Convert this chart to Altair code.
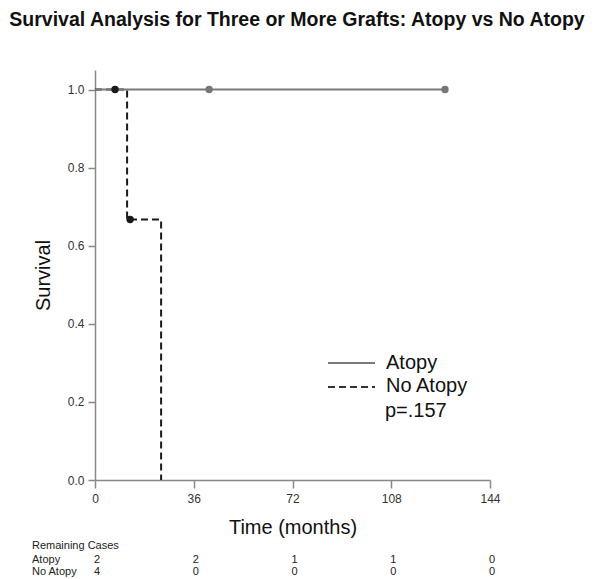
import altair as alt
import pandas as pd

# ---- data ----
atopy_t = [0, 127.6]
atopy_s = [1.0, 1.0]
atopy_cens_t = [41.6, 127.6]
atopy_cens_s = [1.0, 1.0]

noatopy_t = [0, 11.7, 24.1]
noatopy_s = [1.0, 0.667, 0.0]
noatopy_cens_t = [7.3, 12.8]
noatopy_cens_s = [1.0, 0.667]

risk_times = [0, 36, 72, 108, 144]
risk_atopy = [2, 2, 1, 1, 0]
risk_noatopy = [4, 0, 0, 0, 0]

x_ticks = [0, 36, 72, 108, 144]
y_ticks = [0.0, 0.2, 0.4, 0.6, 0.8, 1.0]

FONT = "Liberation Sans"
W, H = 395, 410

xs = alt.Scale(domain=[0, 144], nice=False, zero=False)
ys = alt.Scale(domain=[0, 1.05], nice=False)

curve_a = pd.DataFrame({"t": atopy_t, "s": atopy_s})
curve_n = pd.DataFrame({"t": noatopy_t, "s": noatopy_s})
cens_a = pd.DataFrame({"t": atopy_cens_t, "s": atopy_cens_s})
cens_n = pd.DataFrame({"t": noatopy_cens_t, "s": noatopy_cens_s})
risk = pd.DataFrame({"t": risk_times, "a": risk_atopy, "n": risk_noatopy})

xenc = alt.X("t:Q", scale=xs, axis=alt.Axis(
    values=x_ticks, title="Time (months)", titleFont=FONT, titleFontSize=20,
    titleFontWeight="normal", titleColor="#111", titlePadding=13,
    labelFont=FONT, labelFontSize=12, labelColor="#333", labelPadding=5,
    tickSize=8, tickColor="#888", domainColor="#888", domainWidth=1.5,
    tickWidth=1.5, grid=False, labelFlush=False))
yenc = alt.Y("s:Q", scale=ys, axis=alt.Axis(
    values=y_ticks, format=".1f", title="Survival", titleFont=FONT,
    titleFontSize=20, titleFontWeight="normal", titleColor="#111",
    titlePadding=14, labelFont=FONT, labelFontSize=12, labelColor="#333",
    labelPadding=4, tickSize=7, tickColor="#888", domainColor="#888",
    domainWidth=1.5, tickWidth=1.5, grid=False))

line_n = alt.Chart(curve_n).mark_line(
    interpolate="step-after", color="#1a1a1a", strokeWidth=2,
    strokeDash=[7, 4]).encode(x=xenc, y=yenc)
line_a = alt.Chart(curve_a).mark_line(
    color="#7a7a7a", strokeWidth=2).encode(x="t:Q", y="s:Q")
pts_a = alt.Chart(cens_a).mark_point(
    filled=True, size=55, color="#777777", opacity=1).encode(x="t:Q", y="s:Q")
pts_n = alt.Chart(cens_n).mark_point(
    filled=True, size=55, color="#1a1a1a", opacity=1).encode(x="t:Q", y="s:Q")

# legend
leg = pd.DataFrame({"k": [0]})
leg_line_a = alt.Chart(leg).mark_rule(color="#7a7a7a", strokeWidth=2).encode(
    x=alt.value(233), x2=alt.value(280), y=alt.value(293))
leg_line_n = alt.Chart(leg).mark_rule(color="#333", strokeWidth=2, strokeDash=[7, 4]).encode(
    x=alt.value(233), x2=alt.value(280), y=alt.value(317))
leg_txt_a = alt.Chart(leg).mark_text(text="Atopy", font=FONT, fontSize=20, align="left",
                                     baseline="middle", color="#111").encode(
    x=alt.value(291), y=alt.value(293))
leg_txt_n = alt.Chart(leg).mark_text(text="No Atopy", font=FONT, fontSize=20, align="left",
                                     baseline="middle", color="#111").encode(
    x=alt.value(291), y=alt.value(316))
leg_txt_p = alt.Chart(leg).mark_text(text="p=.157", font=FONT, fontSize=20, align="left",
                                     baseline="middle", color="#111").encode(
    x=alt.value(290), y=alt.value(341))

# title
title = alt.Chart(leg).mark_text(
    text="Survival Analysis for Three or More Grafts: Atopy vs No Atopy",
    font=FONT, fontSize=19.5, fontWeight="bold", align="center", baseline="middle",
    color="#111").encode(x=alt.value(202), y=alt.value(-50))

# remaining cases table
rc_hdr = alt.Chart(leg).mark_text(text="Remaining Cases", font=FONT, fontSize=11,
                                  align="left", baseline="middle", color="#222").encode(
    x=alt.value(-63), y=alt.value(476))
rc_a_lbl = alt.Chart(leg).mark_text(text="Atopy", font=FONT, fontSize=11,
                                    align="left", baseline="middle", color="#222").encode(
    x=alt.value(-63), y=alt.value(490))
rc_n_lbl = alt.Chart(leg).mark_text(text="No Atopy", font=FONT, fontSize=11,
                                    align="left", baseline="middle", color="#222").encode(
    x=alt.value(-63), y=alt.value(502))
rc_a = alt.Chart(risk).mark_text(font=FONT, fontSize=11, align="center", baseline="middle",
                                 color="#222", dx=2).encode(
    x="t:Q", y=alt.value(490), text="a:Q")
rc_n = alt.Chart(risk).mark_text(font=FONT, fontSize=11, align="center", baseline="middle",
                                 color="#222", dx=2).encode(
    x="t:Q", y=alt.value(502), text="n:Q")

chart = alt.layer(
    line_n, line_a, pts_a, pts_n,
    leg_line_a, leg_line_n, leg_txt_a, leg_txt_n, leg_txt_p,
    title, rc_hdr, rc_a_lbl, rc_n_lbl, rc_a, rc_n
).properties(
    width=W, height=H,
    background="white",
    autosize=alt.AutoSizeParams(type="none"),
    padding={"left": 87, "top": 62, "right": 100, "bottom": 100},
).configure_view(strokeWidth=0, stroke="transparent")

chart.save("out.html", embed_options={"renderer": "svg", "actions": False})
